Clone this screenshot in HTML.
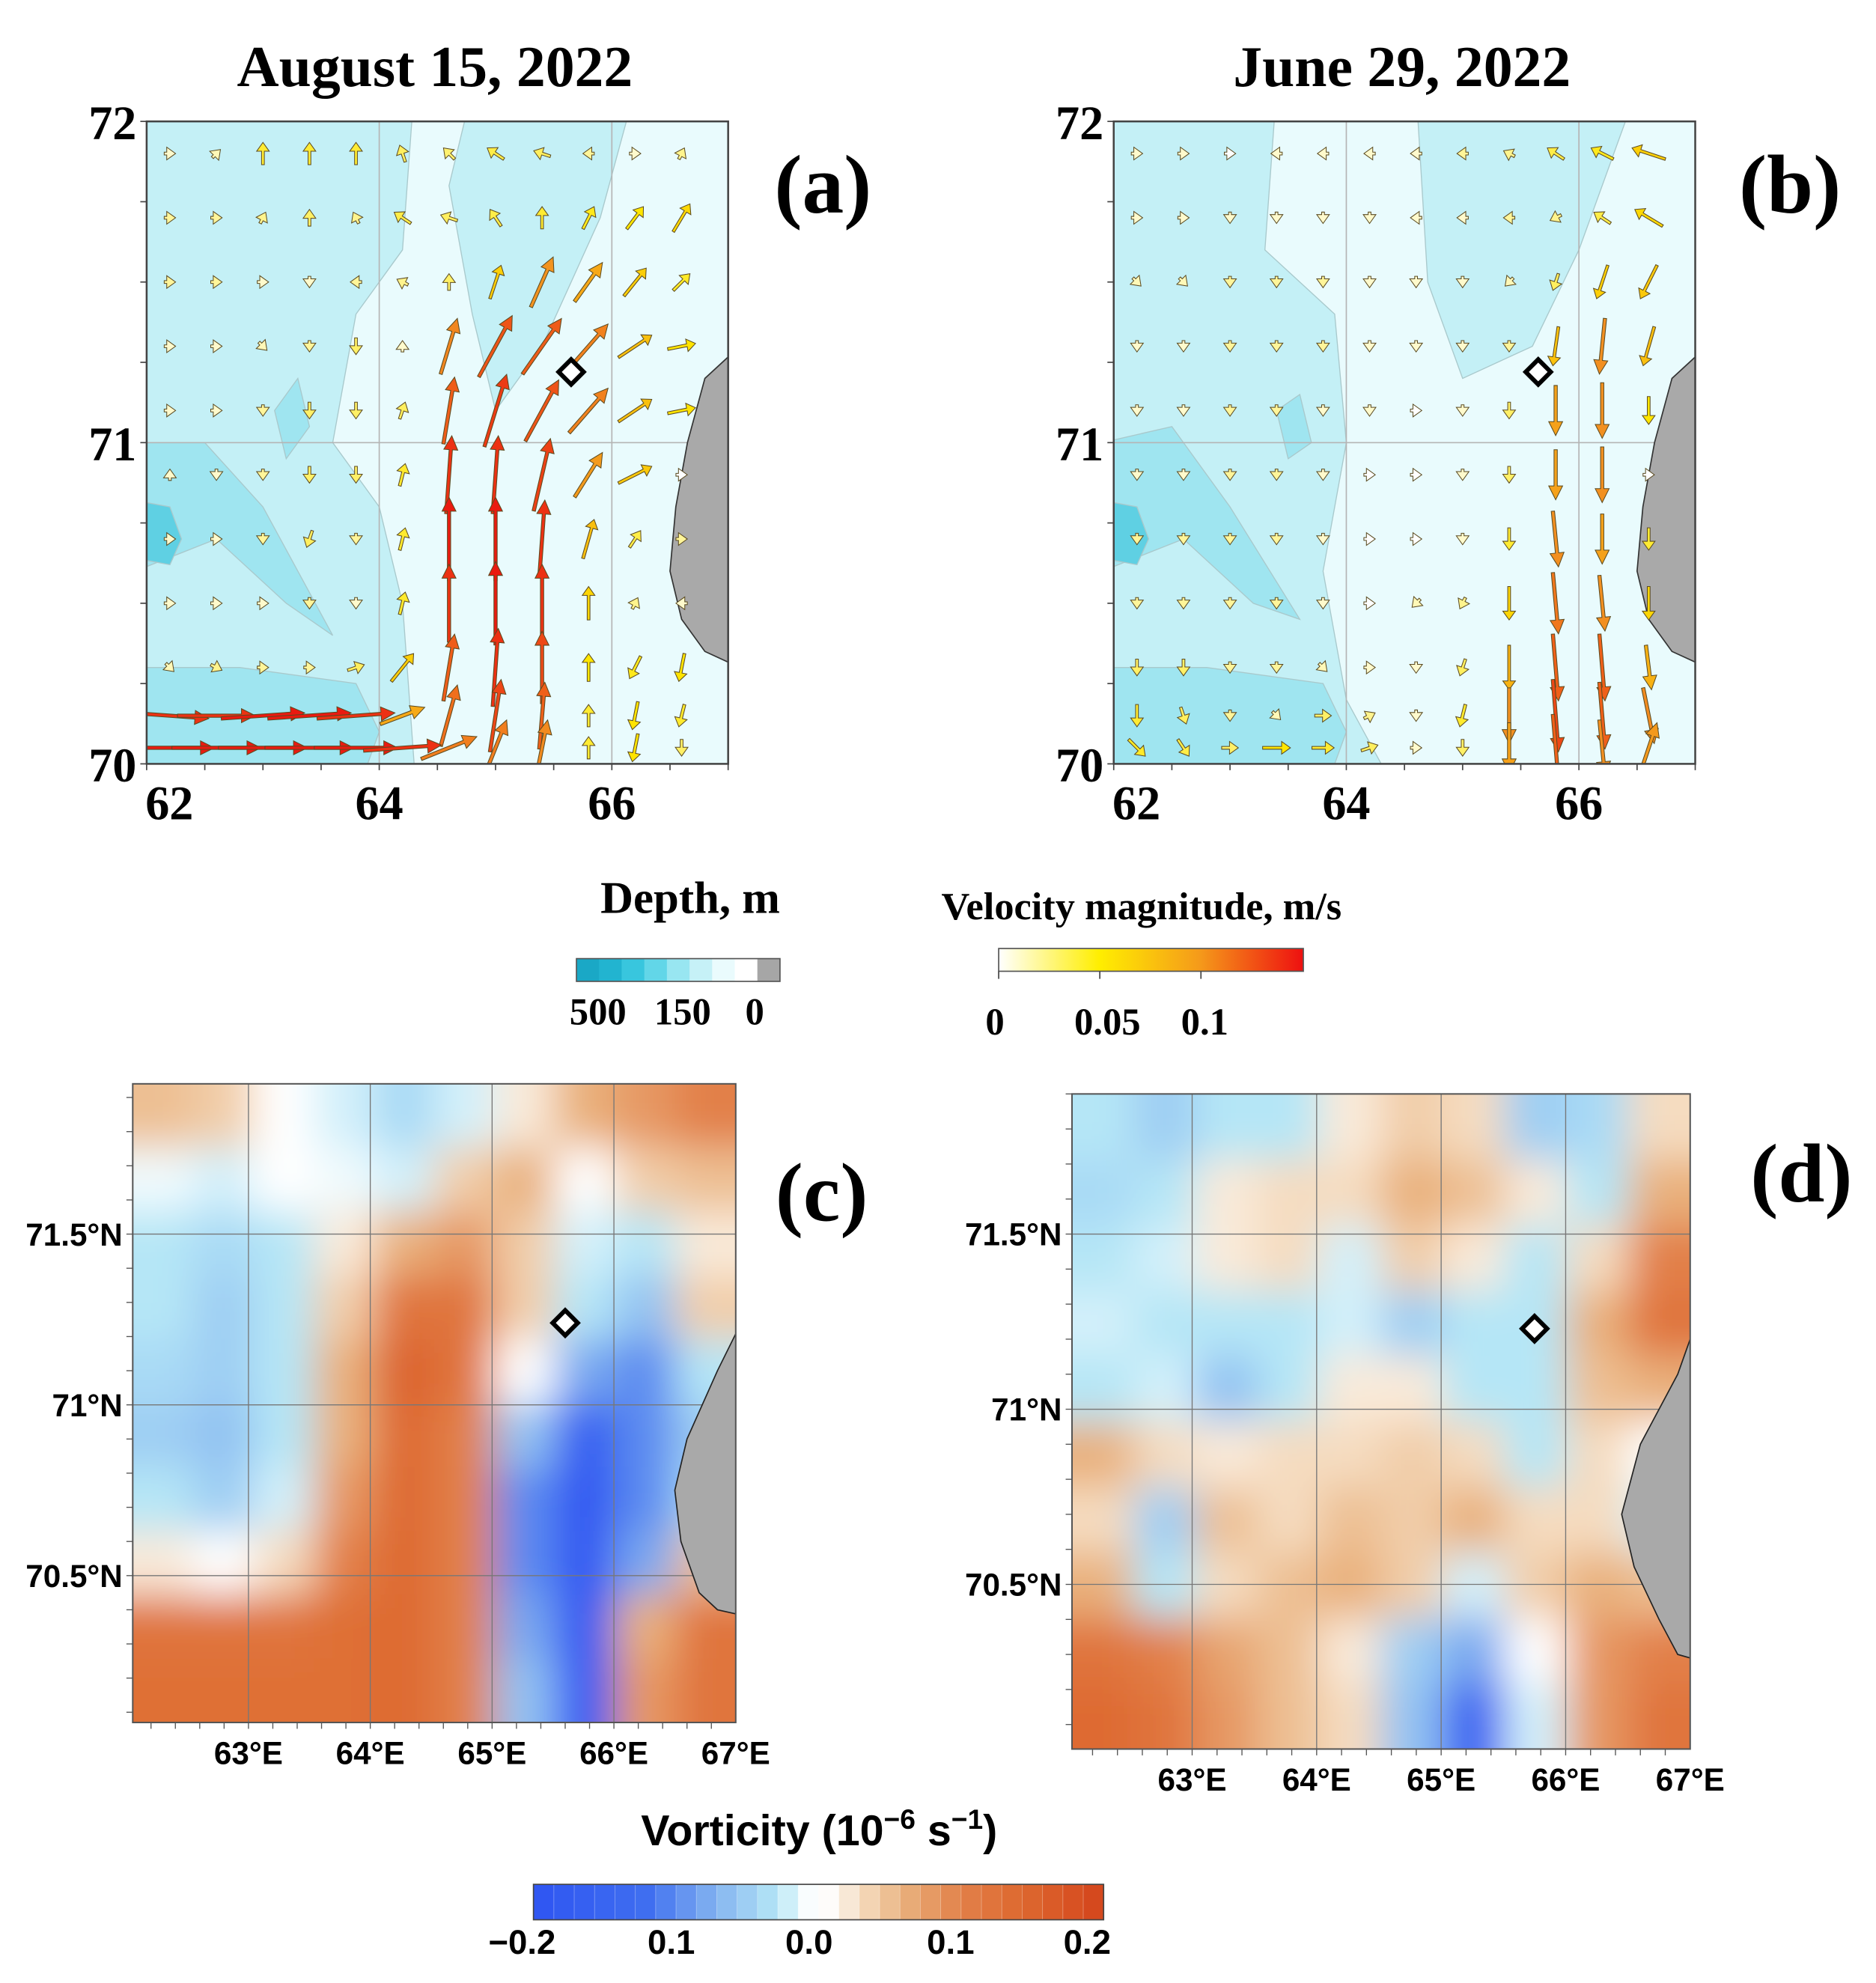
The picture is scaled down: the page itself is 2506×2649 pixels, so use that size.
<!DOCTYPE html>
<html><head><meta charset="utf-8"><style>
html,body{margin:0;padding:0;background:#fff;}
svg{display:block;}
.tm{font-family:"Liberation Serif",serif;font-weight:bold;fill:#000;}
.ar{font-family:"Liberation Sans",sans-serif;font-weight:bold;fill:#000;}
</style></head><body>
<svg id="fig" width="2506" height="2649" viewBox="0 0 1484 1568" preserveAspectRatio="none" xmlns="http://www.w3.org/2000/svg">
<defs>
<clipPath id="clipA"><rect x="116" y="96" width="460" height="508"/></clipPath>
<clipPath id="clipB"><rect x="881" y="96" width="460" height="508"/></clipPath>
<clipPath id="clipC"><rect x="105" y="857" width="477" height="505"/></clipPath>
<clipPath id="clipD"><rect x="848" y="865" width="489" height="518"/></clipPath>
<filter id="blur" x="-20%" y="-20%" width="140%" height="140%"><feGaussianBlur stdDeviation="16"/></filter>
<linearGradient id="velGrad" x1="0" x2="1" y1="0" y2="0">
<stop offset="0" stop-color="#ffffff"/><stop offset="0.33" stop-color="#ffee00"/><stop offset="0.66" stop-color="#f59a1a"/><stop offset="1" stop-color="#ee1010"/>
</linearGradient>
</defs>
<g id="root"></g>
</svg>
<script>
// ---------------- DATA ----------------
const arrowLons = [62.2,62.6,63.0,63.4,63.8,64.2,64.6,65.0,65.4,65.8,66.2,66.6];
const arrowLats = [71.9,71.7,71.5,71.3,71.1,70.9,70.7,70.5,70.3,70.15,70.05];
const uA = [
[1,1,0,0,0,-1,-2,-3,-3,-2,1,1],
[2,2,1,0,-1,-3,-3,-2,0,2,3,3],
[2,2,1,0,-2,-2,0,2,4,5,4,3],
[1,1,1,0,0,0,3,6,7,7,6,5],
[1,1,0,0,0,1,2,4,6,7,6,5],
[0,0,0,0,0,1,1,1,3,5,6,0],
[1,1,0,-1,0,1,0,0,1,2,2,2],
[1,1,1,0,0,1,0,0,0,0,1,-1],
[1,2,2,2,3,4,2,1,0,0,-2,-1],
[14,14,15,15,14,8,3,2,1,0,-1,-1],
[16,16,16,16,15,14,10,4,2,0,-1,0]];
const vA = [
[0,1,4,4,4,3,2,2,1,0,0,2],
[0,0,2,3,2,2,1,3,4,4,4,5],
[0,0,0,-1,0,1,3,6,9,7,5,3],
[0,0,-1,-2,-3,1,10,11,10,8,4,1],
[0,0,-2,-3,-3,3,12,13,11,8,4,1],
[1,-1,-2,-3,-3,4,14,14,13,8,3,0],
[0,0,-2,-3,-2,4,15,15,14,7,3,0],
[0,0,0,-2,-1,4,14,15,14,6,2,0],
[-1,-1,0,0,1,5,12,14,13,5,-4,-5],
[-1,0,1,1,1,3,11,13,12,4,-5,-4],
[0,0,0,0,0,1,4,10,10,4,-5,-3]];
const uB = [
[1,1,0,-1,-1,-1,-1,-2,-2,-3,-4,-6],
[1,1,0,0,0,0,-1,-1,-2,-2,-3,-5],
[1,1,0,0,0,0,0,0,-1,-1,-2,-3],
[0,0,0,0,0,0,0,0,0,-1,-1,-2],
[0,0,0,0,0,0,0,0,0,0,0,0],
[0,0,0,0,0,0,0,0,0,0,0,0],
[0,0,0,0,0,0,0,0,0,1,0,0],
[0,0,0,0,0,0,-1,-1,0,1,1,0],
[0,0,0,0,1,1,0,-1,0,1,1,1],
[0,1,0,1,3,2,0,-1,0,1,1,2],
[3,2,3,5,4,3,1,0,0,1,1,3]];
const vB = [
[0,0,0,0,0,0,0,0,1,2,2,2],
[0,0,-1,-1,-1,-1,0,0,0,-1,2,3],
[-1,-1,-2,-2,-2,-1,-1,-1,-1,-3,-6,-6],
[-1,-1,-2,-2,-2,-1,-1,-1,-2,-7,-10,-7],
[-1,-1,-2,-2,-1,-1,0,-1,-3,-9,-10,-5],
[-1,-1,-2,-2,-1,0,0,-1,-3,-9,-10,0],
[-2,-2,-2,-2,-1,0,0,-1,-4,-10,-9,-4],
[-2,-2,-2,-2,-1,0,-1,-2,-6,-11,-10,-6],
[-3,-3,-2,-2,-1,0,-1,-3,-8,-12,-12,-8],
[-4,-3,-2,-1,0,1,-1,-4,-10,-13,-12,-10],
[-3,-3,0,0,0,1,0,-3,-9,-12,-10,9]];
const vortC = [
[0.05,0.04,0.0,-0.02,-0.04,-0.02,0.02,0.06,0.08,0.1],
[-0.01,-0.02,0,-0.01,-0.02,0.04,0.06,0.0,0.04,0.05],
[-0.03,-0.04,-0.03,0.02,0.06,0.08,0.04,-0.02,-0.03,0.02],
[-0.03,-0.05,-0.03,0.04,0.12,0.12,0.04,-0.03,-0.06,0.04],
[-0.04,-0.05,-0.03,0.06,0.15,0.12,0.0,-0.08,-0.1,-0.03],
[-0.05,-0.06,-0.03,0.06,0.14,0.1,-0.06,-0.17,-0.1,-0.05],
[-0.03,-0.05,-0.02,0.08,0.14,0.1,-0.1,-0.19,-0.1,-0.04],
[0.02,0.0,0.03,0.1,0.14,0.1,-0.1,-0.19,-0.08,0.05],
[0.12,0.12,0.12,0.13,0.14,0.1,-0.08,-0.19,0.06,0.12],
[0.13,0.13,0.13,0.13,0.14,0.1,-0.06,-0.18,0.08,0.12]];
const vortD = [
[-0.03,-0.05,-0.03,-0.03,0.02,0.04,0.03,-0.05,-0.04,0.03],
[-0.04,-0.03,0.02,0.03,0.03,0.06,0.05,0.02,-0.03,0.06],
[-0.03,-0.02,0.02,0.03,-0.02,0.04,0.02,-0.03,0.03,0.1],
[-0.02,-0.03,-0.03,-0.03,-0.02,-0.05,-0.03,-0.03,0.06,0.12],
[-0.03,-0.02,-0.06,-0.03,0.02,0.02,-0.03,-0.03,0.05,0.06],
[0.06,0.03,0.02,0.03,0.03,0.04,0.03,-0.03,0.03,0.0],
[0.03,-0.05,0.05,0.03,0.05,0.04,0.06,0.03,0.03,-0.02],
[0.06,-0.03,0.03,0.05,0.06,0.04,-0.02,0.04,0.06,0.05],
[0.12,0.1,0.07,0.05,0.02,-0.05,-0.08,0.0,0.08,0.1],
[0.14,0.12,0.08,0.05,0.03,-0.06,-0.16,-0.02,0.08,0.12]];
const lonTicksAB = [62,64,66];
const latTicksAB = [70,71,72];
const lonTicksCD = [63,64,65,66,67];
const latTicksCD = [70.5,71,71.5];
const depthLabels = ["500","150","0"];
const velLabels = ["0","0.05","0.1"];
const vortLabels = ["\u22120.2","0.1","0.0","0.1","0.2"];

// ---------------- HELPERS ----------------
const NS="http://www.w3.org/2000/svg";
const root=document.getElementById('root');
function mk(tag,attrs,parent){const e=document.createElementNS(NS,tag);for(const k in attrs)e.setAttribute(k,attrs[k]);(parent||root).appendChild(e);return e;}
function txt(s,x,y,size,cls,anchor,parent){const t=mk('text',{x:x,y:y,'font-size':size,class:cls,'text-anchor':anchor||'middle'},parent);t.textContent=s;return t;}
function lerp(a,b,t){return a+(b-a)*t;}
function hex(c){return [parseInt(c.slice(1,3),16),parseInt(c.slice(3,5),16),parseInt(c.slice(5,7),16)];}
function ramp(stops,v){
  if(v<=stops[0][0])return stops[0][1];
  for(let i=1;i<stops.length;i++){if(v<=stops[i][0]){const t=(v-stops[i-1][0])/(stops[i][0]-stops[i-1][0]);const a=hex(stops[i-1][1]),b=hex(stops[i][1]);return 'rgb('+a.map((x,j)=>Math.round(lerp(x,b[j],t))).join(',')+')';}}
  return stops[stops.length-1][1];
}
const velStops=[[0,'#ffffff'],[5,'#ffe600'],[10,'#f29020'],[15,'#ea1a10']];
const vortStops=[[-0.2,'#2f55f2'],[-0.12,'#3f6ef0'],[-0.07,'#86b6f0'],[-0.03,'#b5e6f6'],[-0.005,'#ffffff'],[0.005,'#ffffff'],[0.03,'#f5dcc0'],[0.06,'#e9b07c'],[0.1,'#e28049'],[0.14,'#de6a30'],[0.2,'#d4441c']];

// ---------------- VELOCITY PANELS ----------------
function velPanel(id,x0,clip,U,V,title,label,shapes){
  const xs=lon=>x0+(lon-62)*92, ys=lat=>96+(72-lat)*254;
  const g=mk('g',{});
  
  
  const bg=mk('g',{'clip-path':'url(#'+clip+')'},g);
  mk('rect',{x:x0,y:96,width:460,height:508,fill:'#e9fbfd'},bg);
  shapes.forEach(s=>{mk('polygon',{points:s.p.map(q=>xs(q[0])+','+ys(q[1])).join(' '),fill:s.c,stroke:'#a9c9cc','stroke-width':0.8},bg);});
  [64,66].forEach(l=>mk('line',{x1:xs(l),x2:xs(l),y1:96,y2:604,stroke:'#b5b5b5','stroke-width':1},bg));
  mk('line',{x1:x0,x2:x0+460,y1:ys(71),y2:ys(71),stroke:'#b5b5b5','stroke-width':1},bg);
  const land=mk('polygon',{points:[[67.1,71.3],[66.8,71.2],[66.65,71.0],[66.55,70.8],[66.5,70.6],[66.6,70.45],[66.8,70.35],[67.1,70.3]].map(q=>xs(q[0])+','+ys(q[1])).join(' '),fill:'#a9a9a9',stroke:'#333','stroke-width':1},bg);
  
  
  const ag=mk('g',{},bg);
  
  
  for(let r=0;r<arrowLats.length;r++)for(let c=0;c<arrowLons.length;c++){
    const u=U[r][c],v=V[r][c];let s=Math.hypot(u,v);
    const cx=xs(arrowLons[c]),cy=ys(arrowLats[r]);
    let dx=1,dy=0; if(s>0){dx=u/s;dy=-v/s;}
    const L=Math.max(9,s*4.4);
    const w=s>8?2.6:2.2, hw=s>8?5.5:5, hl=s>8?11:7;
    const px=-dy,py=dx;
    const sx=cx-dx*L/2,sy=cy-dy*L/2,ex=cx+dx*L/2,ey=cy+dy*L/2;
    const bx=ex-dx*hl,by=ey-dy*hl;
    const pts=[[sx+px*w/2,sy+py*w/2],[bx+px*w/2,by+py*w/2],[bx+px*hw,by+py*hw],[ex,ey],[bx-px*hw,by-py*hw],[bx-px*w/2,by-py*w/2],[sx-px*w/2,sy-py*w/2]];
    const a=mk('polygon',{points:pts.map(p=>p[0].toFixed(1)+','+p[1].toFixed(1)).join(' '),fill:ramp(velStops,s),stroke:'#5a4a20','stroke-width':0.6},ag);
    
    
  }
  const d=mk('rect',{x:-7,y:-7,width:14,height:14,fill:'#fff',stroke:'#000','stroke-width':3.5,transform:'translate('+xs(65.65)+','+ys(71.22)+') rotate(45)'},g);
  
  
  mk('rect',{x:x0,y:96,width:460,height:508,fill:'none',stroke:'#444','stroke-width':1.5},g);
  for(let l=62;l<=67;l+=0.5){mk('line',{x1:xs(l),x2:xs(l),y1:604,y2:609,stroke:'#444','stroke-width':1},g);}
  for(let l=70;l<=72;l+=0.25){mk('line',{x1:x0-5,x2:x0,y1:ys(l),y2:ys(l),stroke:'#444','stroke-width':1},g);}
  lonTicksAB.forEach(l=>{const t=txt(String(l),xs(l)+(l===62?18:0),648,38,'tm','middle',g);});
  latTicksAB.forEach(l=>{const t=txt(String(l),x0-8,ys(l)+14,38,'tm','end',g);});
  const tt=txt(title,x0+228,68,46,'tm','middle',g);
  
  
  const pl=txt(label,x0+535,168,66,'tm','middle',g);
  
  
}
const L1='#c4f0f6',L2='#9fe5f0',L3='#5fd0e3';
velPanel('panel-a-velocity',116,'clipA',uA,vA,'August 15, 2022','(a)',[
 {c:L1,p:[[61.9,72.1],[64.3,72.1],[64.2,71.6],[63.8,71.4],[63.6,71.0],[64.0,70.8],[64.2,70.5],[64.3,70.0],[61.9,69.9]]},
 {c:L1,p:[[64.8,72.1],[66.2,72.1],[65.9,71.7],[65.4,71.3],[65.0,71.1],[64.8,71.4],[64.6,71.8]]},
 {c:L2,p:[[61.9,71.0],[62.5,71.0],[63.0,70.8],[63.6,70.4],[63.2,70.5],[62.6,70.7],[61.9,70.6]]},
 {c:L2,p:[[61.9,70.3],[62.8,70.3],[63.8,70.25],[64.0,70.1],[63.8,69.9],[61.9,69.9]]},
 {c:L2,p:[[63.1,71.1],[63.3,71.2],[63.4,71.05],[63.2,70.95]]},
 {c:L3,p:[[61.9,70.82],[62.2,70.8],[62.3,70.7],[62.2,70.62],[61.9,70.64]]}
]);
velPanel('panel-b-velocity',881,'clipB',uB,vB,'June 29, 2022','(b)',[
 {c:L1,p:[[61.9,72.1],[63.4,72.1],[63.3,71.6],[63.9,71.4],[64.0,71.0],[63.8,70.6],[64.0,70.2],[64.3,70.0],[61.9,69.9]]},
 {c:L1,p:[[64.6,72.1],[66.5,72.1],[66.0,71.6],[65.6,71.3],[65.0,71.2],[64.7,71.5]]},
 {c:L2,p:[[61.9,71.0],[62.5,71.05],[63.0,70.8],[63.6,70.45],[63.2,70.5],[62.6,70.7],[61.9,70.6]]},
 {c:L2,p:[[61.9,70.3],[62.8,70.3],[63.8,70.25],[64.0,70.1],[63.8,69.9],[61.9,69.9]]},
 {c:L2,p:[[63.4,71.1],[63.6,71.15],[63.7,71.0],[63.5,70.95]]},
 {c:L3,p:[[61.9,70.82],[62.2,70.8],[62.3,70.7],[62.2,70.62],[61.9,70.64]]}
]);

// ---------------- COLORBARS (depth / velocity) ----------------
(function(){
  const g=mk('g',{});
  
  
  const cols=['#1aa8c6','#22b4d0','#38c6de','#62d6e8','#98e6f1','#c6f1f7','#eafbfd','#ffffff','#a6a6a6'];
  const w=161/cols.length;
  cols.forEach((c,i)=>mk('rect',{x:456+i*w,y:758,width:w+0.3,height:18,fill:c},g));
  mk('rect',{x:456,y:758,width:161,height:18,fill:'none',stroke:'#555','stroke-width':1},g);
  const t=txt('Depth, m',546,722,36,'tm','middle',g);
  
  
  [473,540,597].forEach((x,i)=>txt(depthLabels[i],x,810,30,'tm','middle',g));
})();
(function(){
  const g=mk('g',{});
  
  
  mk('rect',{x:790,y:750,width:241,height:18,fill:'url(#velGrad)',stroke:'#555','stroke-width':1},g);
  [790,870,950].forEach(x=>mk('line',{x1:x,x2:x,y1:768,y2:774,stroke:'#444'},g));
  const t=txt('Velocity magnitude, m/s',903,727,31,'tm','middle',g);
  
  
  [787,876,953].forEach((x,i)=>txt(velLabels[i],x,818,30,'tm','middle',g));
})();

// ---------------- VORTICITY PANELS ----------------
function vortPanel(id,clip,X0,Y0,W,H,lonL,lonR,latT,latB,grid,label,lx,ly,station,landPts){
  const xs=lon=>X0+(lon-lonL)/(lonR-lonL)*W, ys=lat=>Y0+(latT-lat)/(latT-latB)*H;
  const g=mk('g',{});
  
  
  const cg=mk('g',{'clip-path':'url(#'+clip+')'},g);
  mk('rect',{x:X0,y:Y0,width:W,height:H,fill:'#ffffff'},cg);
  const hm=mk('g',{filter:'url(#blur)'},cg);
  
  
  const nr=grid.length,nc=grid[0].length;
  const dlon=(lonR-lonL)/nc, dlat=(latT-latB)/nr;
  for(let r=0;r<nr;r++)for(let c=0;c<nc;c++){
    let la=lonL+c*dlon, lb=la+dlon, ta=latT-r*dlat, tb=ta-dlat;
    if(c===0)la-=dlon; if(c===nc-1)lb+=dlon; if(r===0)ta+=dlat; if(r===nr-1)tb-=dlat;
    const cell=mk('rect',{x:xs(la),y:ys(ta),width:xs(lb)-xs(la)+0.5,height:ys(tb)-ys(ta)+0.5,fill:ramp(vortStops,grid[r][c])},hm);
    
    
  }
  lonTicksCD.forEach(l=>mk('line',{x1:xs(l),x2:xs(l),y1:Y0,y2:Y0+H,stroke:'#777','stroke-width':0.8},cg));
  latTicksCD.forEach(l=>mk('line',{x1:X0,x2:X0+W,y1:ys(l),y2:ys(l),stroke:'#777','stroke-width':0.8},cg));
  const land=mk('polygon',{points:landPts.map(q=>xs(q[0])+','+ys(q[1])).join(' '),fill:'#a9a9a9',stroke:'#222','stroke-width':1},cg);
  
  
  const d=mk('rect',{x:-7,y:-7,width:14,height:14,fill:'#fff',stroke:'#000','stroke-width':3.5,transform:'translate('+xs(station[0])+','+ys(station[1])+') rotate(45)'},g);
  
  
  mk('rect',{x:X0,y:Y0,width:W,height:H,fill:'none',stroke:'#555','stroke-width':1.2},g);
  for(let l=62.2;l<=67;l+=0.2){mk('line',{x1:xs(l),x2:xs(l),y1:Y0+H,y2:Y0+H+5,stroke:'#555','stroke-width':0.8},g);}
  for(let l=70.1;l<latT;l+=0.1){mk('line',{x1:X0-5,x2:X0,y1:ys(l),y2:ys(l),stroke:'#555','stroke-width':0.8},g);}
  lonTicksCD.forEach(l=>{const t=txt(l+'°E',xs(l),Y0+H+33,25,'ar','middle',g);});
  latTicksCD.forEach(l=>{const t=txt(l+'°N',X0-8,ys(l)+9,25,'ar','end',g);});
  const pl=txt(label,lx,ly,66,'tm','middle',g);
  
  
}
vortPanel('panel-c-vorticity','clipC',105,857,477,505,62.05,67.0,71.94,70.07,vortC,'(c)',650,965,[65.6,71.24],
 [[67.1,71.28],[66.85,71.1],[66.6,70.9],[66.5,70.75],[66.55,70.6],[66.7,70.45],[66.85,70.4],[67.1,70.38]]);
vortPanel('panel-d-vorticity','clipD',848,865,489,518,62.035,67.0,71.9,70.03,vortD,'(d)',1425,950,[65.75,71.23],
 [[67.1,71.3],[66.9,71.1],[66.6,70.9],[66.45,70.7],[66.55,70.55],[66.75,70.4],[66.9,70.3],[67.1,70.28]]);

// ---------------- VORTICITY COLORBAR ----------------
(function(){
  const g=mk('g',{});
  
  
  const n=28,w=451/n;
  for(let i=0;i<n;i++){const v=-0.2+(i+0.5)*0.4/n;mk('rect',{x:422+i*w,y:1490,width:w+0.3,height:28,fill:ramp(vortStops,v),stroke:'rgba(255,255,255,0.35)','stroke-width':0.5},g);}
  mk('rect',{x:422,y:1490,width:451,height:28,fill:'none',stroke:'#444','stroke-width':1},g);
  const t=mk('text',{x:648,y:1459,'font-size':34,class:'ar','text-anchor':'middle'},g);
  
  
  t.innerHTML='Vorticity (10<tspan dy="-13" font-size="22">\u22126</tspan><tspan dy="13"> s</tspan><tspan dy="-13" font-size="22">\u22121</tspan><tspan dy="13">)</tspan>';
  [413,531,640,752,860].forEach((x,i)=>txt(vortLabels[i],x,1545,27,'ar','middle',g));
})();
</script>
</body></html>
